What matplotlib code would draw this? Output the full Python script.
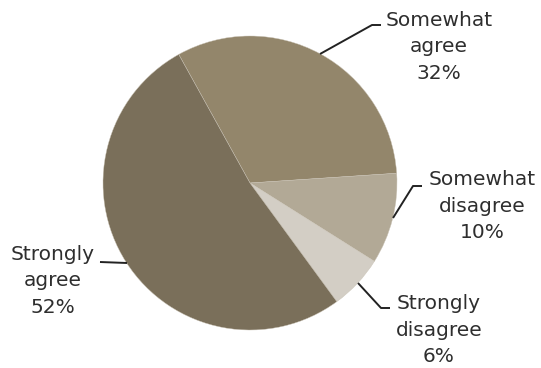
import matplotlib.pyplot as plt

labels = ["Somewhat\nagree", "Somewhat\ndisagree", "Strongly\ndisagree", "Strongly\nagree"]
values = [32, 10, 6, 52]
colors = ["#93866b", "#b2a996", "#d3cec5", "#7a6f5a"]

# label text centres and leader lines, in pixel-like units (y from top)
text_pos = [(439, 47), (482, 206), (439, 330), (53, 281)]
leaders = [
    [(320, 54), (372, 25), (381, 25)],
    [(393, 218), (413, 186), (422, 186)],
    [(358, 283), (381, 308), (390, 308)],
    [(127, 263), (100, 262)],
]

W, H = 541, 368
fig = plt.figure(figsize=(W / 100, H / 100), dpi=100)
ax = fig.add_axes([0, 0, 1, 1])

ax.pie(values, colors=colors, startangle=119, counterclock=False,
       radius=147, center=(250, H - 183),
       wedgeprops=dict(edgecolor="#c9c2b4", linewidth=0.3))

ax.set_xlim(0, W)
ax.set_ylim(0, H)
ax.set_aspect("equal")
ax.axis("off")

for lab, v, (tx, ty), pts in zip(labels, values, text_pos, leaders):
    ax.text(tx, H - ty, "{}\n{}%".format(lab, v), ha="center", va="center",
            fontsize=14.5, color="#2e2e2e", linespacing=1.5,
            family="DejaVu Sans")
    xs = [p[0] for p in pts]
    ys = [H - p[1] for p in pts]
    ax.plot(xs, ys, color="#222222", lw=1.4, solid_capstyle="butt")

fig.savefig("out.png", dpi=100)
